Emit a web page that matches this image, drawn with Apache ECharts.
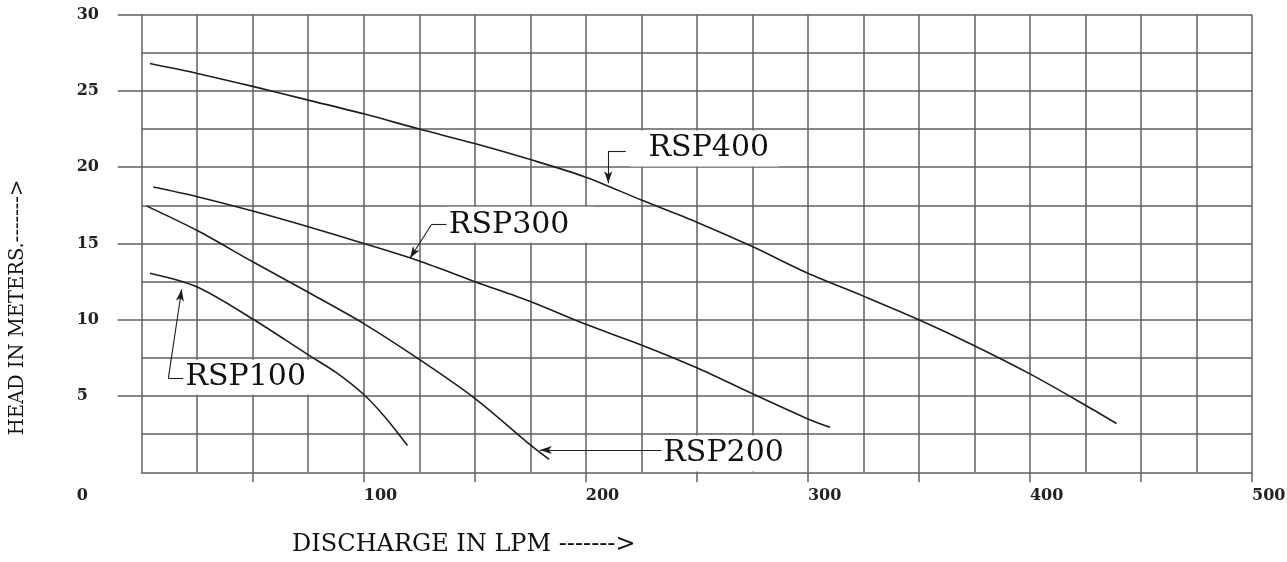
<!DOCTYPE html>
<html><head><meta charset="utf-8">
<script src="https://cdn.jsdelivr.net/npm/echarts@6/dist/echarts.min.js"></script>
<style>html,body{margin:0;padding:0;background:#fff}#c{width:1287px;height:562px}</style>
</head><body><div id="c"></div>
<script>
// ---- data (discharge LPM, head m) ----
const rsp100 = [[3.7,13.05],[25,12.15],[50,10.05],[75,7.7],[87.5,6.55],[100,5.1],[110,3.55],[119.7,1.75]];
const rsp200 = [[2.3,17.45],[25,15.85],[50,13.8],[75,11.8],[100,9.75],[125,7.4],[150,4.85],[175,1.8],[183.5,0.85]];
const rsp300 = [[5.2,18.7],[25,18.07],[50,17.13],[75,16.1],[100,15.0],[125,13.85],[150,12.5],[175,11.2],[200,9.7],[225,8.35],[250,6.85],[275,5.15],[300,3.5],[310,2.95]];
const rsp400 = [[3.7,26.8],[25,26.15],[50,25.3],[75,24.4],[100,23.5],[125,22.5],[150,21.55],[175,20.5],[200,19.35],[225,17.85],[250,16.4],[275,14.8],[300,13.05],[325,11.55],[350,10.0],[375,8.3],[400,6.45],[425,4.4],[439,3.2]];
const seriesNames = ['RSP100','RSP200','RSP300','RSP400'];
const xLabelValues = [100,200,300,400,500];
const yLabelValues = [0,5,10,15,20,25,30];
const xTickValues = [50,100,150,200,250,300,350,400,450,500];
const yTickValues = [5,10,15,20,25,30];
// annotation anchors in data units: [arrow tip, elbow, leader end], label anchor
const leader100 = [[18.0,12.0],[12.0,6.16],[18.7,6.16]];
const leader200 = [[179.3,1.46],[234.1,1.46]];
const leader300 = [[120.8,14.03],[130.6,16.26],[137.3,16.26]];
const leader400 = [[210.1,18.95],[210.1,21.07],[218.0,21.07]];
const labelAt = {RSP100:[19.0,6.23], RSP200:[234.2,1.23], RSP300:[137.2,16.23], RSP400:[219.9,21.23]};

const GRID = '#606060', INK = '#1e1e1e', SERIF = 'DejaVu Serif';
const labelPad = {RSP100:[7,8,2,1], RSP200:[2,6,8,1], RSP300:[5,24,5,2], RSP400:[8,10,2,18]};

function leaderLines(pts){
  const tip = pts[0];
  const out = [[{coord:pts[1], symbol:'none'},{coord:tip, symbol:'arrow', symbolSize:[6,12]}]];
  if (pts.length === 3) out.push([{coord:pts[1], symbol:'none'},{coord:pts[2], symbol:'none'}]);
  return out;
}
function mkSeries(name, data, leader){
  return {
    name, type:'line', data, showSymbol:false, smooth:0.3, z:3, silent:true,
    lineStyle:{color:INK, width:1.6}, itemStyle:{color:INK},
    markLine:{silent:true, animation:false, symbol:['none','none'],
      lineStyle:{color:INK, width:1.1, type:'solid'}, label:{show:false}, emphasis:{disabled:true},
      data: leaderLines(leader)},
    markPoint:{silent:true, animation:false, symbol:'circle', symbolSize:1,
      itemStyle:{color:'rgba(0,0,0,0)'},
      data:[{coord:labelAt[name], value:0,
        label:{show:true, position:'right', distance:0, formatter:name,
          fontFamily:SERIF, fontSize:30, color:'#111', backgroundColor:'#fff',
          lineHeight:26, padding:labelPad[name]}}]}
  };
}
const chart = echarts.init(document.getElementById('c'), null, {renderer:'canvas'});
chart.setOption({
  animation:false,
  backgroundColor:'#fff',
  grid:{left:141.7, right:35, top:14.7, bottom:89.7, containLabel:false, outerBoundsMode:'none'},
  xAxis:{type:'value', min:0, max:500, interval:50,
    name:'DISCHARGE IN LPM ------->', nameLocation:'middle', nameGap:60,
    nameTextStyle:{fontFamily:SERIF, fontSize:24, color:'#111', padding:[0,466,0,0]},
    axisLine:{show:true, lineStyle:{color:GRID, width:1.5}},
    axisTick:{show:true, length:10, customValues:xTickValues, lineStyle:{color:GRID, width:1.5}},
    axisLabel:{margin:24, align:'left', verticalAlign:'middle', fontFamily:SERIF, fontWeight:'bold', fontSize:16, color:'#222',
      formatter: v => xLabelValues.includes(v) ? String(v) : ''},
    splitLine:{show:true, lineStyle:{color:GRID, width:1.5}},
    minorTick:{show:false, splitNumber:2},
    minorSplitLine:{show:true, lineStyle:{color:GRID, width:1.5}}
  },
  yAxis:{type:'value', min:0, max:30, interval:5,
    name:'HEAD IN METERS.------->', nameLocation:'middle', nameGap:114, nameRotate:90,
    nameTextStyle:{fontFamily:SERIF, fontSize:19.5, color:'#111', padding:[0,128,0,0]},
    axisLine:{show:true, lineStyle:{color:GRID, width:1.5}},
    axisTick:{show:true, length:24, customValues:yTickValues, lineStyle:{color:GRID, width:1.5}},
    axisLabel:{margin:65, align:'left', fontFamily:SERIF, fontWeight:'bold', fontSize:16, color:'#222',
      formatter: v => !yLabelValues.includes(v) ? '' : (v === 0 ? '{z|0}' : String(v)),
      rich:{z:{padding:[48,0,0,0], fontFamily:SERIF, fontWeight:'bold', fontSize:16, color:'#222'}}},
    splitLine:{show:true, lineStyle:{color:GRID, width:1.5}},
    minorTick:{show:false, splitNumber:2},
    minorSplitLine:{show:true, lineStyle:{color:GRID, width:1.5}}
  },
  series:[
    mkSeries(seriesNames[0], rsp100, leader100),
    mkSeries(seriesNames[1], rsp200, leader200),
    mkSeries(seriesNames[2], rsp300, leader300),
    mkSeries(seriesNames[3], rsp400, leader400)
  ]
});
</script></body></html>
